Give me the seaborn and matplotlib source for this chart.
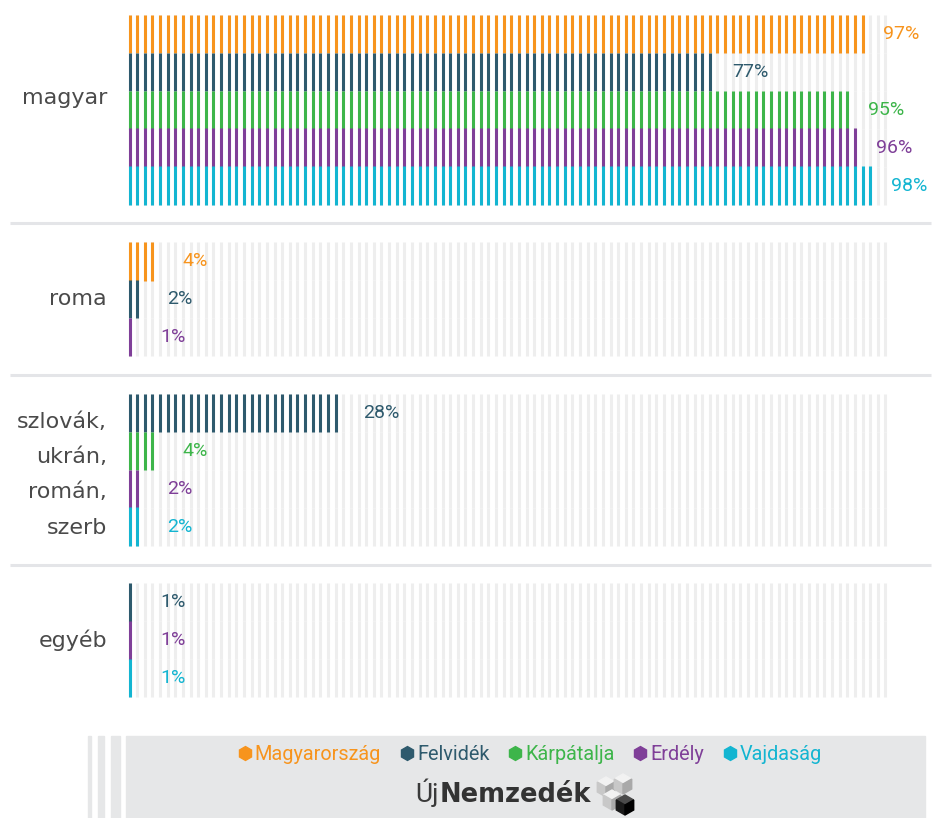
import pandas as pd
import matplotlib.pyplot as plt
from matplotlib.lines import Line2D
from matplotlib.patches import Rectangle, Polygon
import seaborn as sns

categories = ["magyar", "roma", "szlovák,\nukrán,\nromán,\nszerb", "egyéb"]
regions = ["Magyarország", "Felvidék", "Kárpátalja", "Erdély", "Vajdaság"]
# percent per category, None = no bar for that region
magyarorszag = [97, 4, None, None]
felvidek = [77, 2, 28, 1]
karpatalja = [95, None, 4, None]
erdely = [96, 1, 2, 1]
vajdasag = [98, None, 2, 1]
colors = ["#f7941d", "#2e5a6d", "#3db54a", "#7f3f98", "#13b5d1"]

series = dict(zip(regions, [magyarorszag, felvidek, karpatalja, erdely, vajdasag]))
palette = dict(zip(regions, colors))

# one row per bar, an empty row between the groups
rows, groups = [], []
k = 0
for ci, cat in enumerate(categories):
    start = k
    for r in regions:
        v = series[r][ci]
        if v is not None:
            rows.append((cat, r, v, k + 0.5))
            k += 1
    groups.append((cat, start, k))
    k += 1
bars = pd.DataFrame(rows, columns=["category", "region", "value", "y"])

# every percent is one vertical stripe
units = bars.loc[bars.index.repeat(bars["value"])].copy()
units["x"] = units.groupby(level=0).cumcount()
bg = bars.loc[bars.index.repeat(100)].copy()
bg["x"] = bg.groupby(level=0).cumcount()

sns.set_style("white")
plt.rcParams["font.family"] = ["DejaVu Sans"]

W, H = 938, 818
fig = plt.figure(figsize=(W / 100, H / 100), dpi=100)
ax = fig.add_axes([0, 0, 1, 1])

# pixel layout: first stripe centre, stripe pitch, top of first row, row height
x0, step = 129.5, 7.636
top, row_h = 15, 37.9
px = lambda p: (p - x0) / step

stripe = (row_h * 0.72 + 0.3) ** 2
ax.scatter(bg["x"], bg["y"], marker="|", s=stripe, color="#eeeeee", linewidths=2.2)
sns.scatterplot(data=units, x="x", y="y", hue="region", palette=palette,
                marker="|", s=stripe, linewidth=2.2, legend=False, ax=ax)

for _, b in bars.iterrows():
    ax.text(b.value + 3.0 - 0.013 * b.value, b.y, f"{b.value}%",
            color=palette[b.region], fontsize=14, family="Roboto",
            ha="left", va="center")

shift = {"magyar": -0.3, categories[2]: 0.13}
for i, (cat, a, b) in enumerate(groups):
    ax.text(px(107), (a + b) / 2 + shift.get(cat, 0), cat, ha="right", va="center",
            fontsize=16, color="#4a4a4a", linespacing=1.95, multialignment="right")
    if i < len(groups) - 1:
        ax.hlines(b + 0.5, px(10), px(931), color="#e4e5e8", lw=2.2)

ax.set_xlim(px(0), px(W))
ax.set_ylim((H - top) / row_h, -top / row_h)
ax.axis("off")

# footer box with legend and logo
fc = "#e6e7e8"
fig.patches.append(Rectangle((126 / W, 0), (925 - 126) / W, (H - 736) / H,
                             transform=fig.transFigure, color=fc, zorder=0))
for left, w in [(88, 3), (98, 6), (111, 9)]:
    fig.patches.append(Rectangle((left / W, 0), w / W, (H - 736) / H,
                                 transform=fig.transFigure, color=fc, zorder=0))

handles = [Line2D([], [], ls="none", marker="h", ms=10, color=c) for c in colors]
leg = fig.legend(handles, regions, loc="center", bbox_to_anchor=(530 / W, 1 - 754 / H),
                 ncol=5, frameon=False, handlelength=0.7, handletextpad=0.15,
                 columnspacing=0.95, borderpad=0, prop={"family": "Roboto", "size": 14.3})
for t, c in zip(leg.get_texts(), colors):
    t.set_color(c)

fig.text(439 / W, 1 - 802 / H, "Új", ha="right", va="baseline", fontsize=19,
         family="Roboto", color="#3a3a3a")
fig.text(440 / W, 1 - 802 / H, "Nemzedék", ha="left", va="baseline",
         fontsize=18.5, fontweight="bold", color="#333333")


def cube(cx, cy, s, shades):
    d = s * 0.87
    faces = [
        [(cx, cy - s), (cx + d, cy - s / 2), (cx, cy), (cx - d, cy - s / 2)],
        [(cx - d, cy - s / 2), (cx, cy), (cx, cy + s), (cx - d, cy + s / 2)],
        [(cx, cy), (cx + d, cy - s / 2), (cx + d, cy + s / 2), (cx, cy + s)],
    ]
    for f, c in zip(faces, shades):
        fig.patches.append(Polygon([(x / W, 1 - y / H) for x, y in f], closed=True,
                                   transform=fig.transFigure, color=c, zorder=3))


light = ["#f2f2f2", "#c8c8c8", "#a9a9a9"]
cube(606, 787, 10, light)
cube(623, 784, 10, light)
cube(612, 800, 10, light)
cube(625, 805, 10, ["#4a4a4a", "#1a1a1a", "#000000"])

fig.savefig("out.png", dpi=100)
